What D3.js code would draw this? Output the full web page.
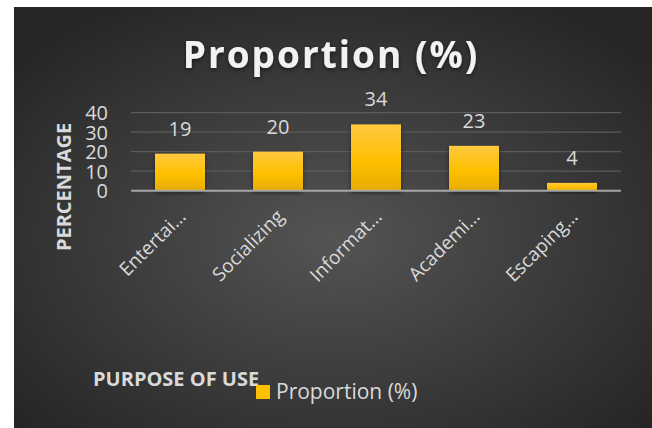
<!DOCTYPE html>
<html>
<head>
<meta charset="utf-8">
<script src="https://cdn.jsdelivr.net/npm/d3@7"></script>
<style>
  body { margin: 0; background: #fff; }
  text { font-family: "Open Sans", sans-serif; }
</style>
</head>
<body>
<div id="chart"></div>
<script>
// data
var categories = ["Entertai…", "Socializing", "Informat…", "Academi…", "Escaping…"];
var proportion = [19, 20, 34, 23, 4];
var yTicks = [0, 10, 20, 30, 40];
var seriesName = "Proportion (%)";

var svgWidth = 652;
var svgHeight = 428;

var plot = { left: 131, right: 621, top: 112.7, bottom: 190.7 };

var svg = d3.select("#chart")
  .append("svg")
  .attr("width", svgWidth)
  .attr("height", svgHeight);

var defs = svg.append("defs");

var bg = defs.append("radialGradient")
  .attr("id", "bg")
  .attr("cx", "50%").attr("cy", "55%").attr("r", "65%");
bg.append("stop").attr("offset", "0%").attr("stop-color", "#545454");
bg.append("stop").attr("offset", "100%").attr("stop-color", "#262626");

var barGrad = defs.append("linearGradient")
  .attr("id", "barGrad")
  .attr("x1", 0).attr("y1", 0).attr("x2", 0).attr("y2", 1);
barGrad.append("stop").attr("offset", "0%").attr("stop-color", "#ffc940");
barGrad.append("stop").attr("offset", "55%").attr("stop-color", "#ffc000");
barGrad.append("stop").attr("offset", "100%").attr("stop-color", "#e6ad00");

var shadow = defs.append("filter").attr("id", "shadow")
  .attr("x", "-20%").attr("y", "-20%").attr("width", "140%").attr("height", "160%");
shadow.append("feDropShadow")
  .attr("dx", 0).attr("dy", 2).attr("stdDeviation", 2)
  .attr("flood-color", "#000").attr("flood-opacity", 0.5);

// panel
svg.append("rect")
  .attr("x", 14).attr("y", 7)
  .attr("width", svgWidth - 14).attr("height", svgHeight - 7)
  .attr("fill", "url(#bg)");

var x = d3.scaleBand()
  .domain(categories)
  .range([plot.left, plot.right])
  .paddingInner(0.49)
  .paddingOuter(0.245);

var y = d3.scaleLinear()
  .domain([0, 40])
  .range([plot.bottom, plot.top]);

// gridlines
svg.append("g")
  .selectAll("line")
  .data(yTicks.slice(1))
  .enter()
  .append("line")
  .attr("x1", plot.left).attr("x2", plot.right)
  .attr("y1", d => y(d)).attr("y2", d => y(d))
  .attr("stroke", "#5b5b5b")
  .attr("stroke-width", 1.3);

// y axis labels (packed tight like the original)
var yAxis = svg.append("g")
  .attr("transform", `translate(${plot.left}, 0)`)
  .call(d3.axisLeft(y).tickValues(yTicks).tickSize(0).tickPadding(23));
yAxis.select(".domain").remove();
yAxis.selectAll("text")
  .attr("fill", "#d9d9d9")
  .attr("font-size", "20px")
  .attr("dy", "0.36em");

// bars
svg.append("g")
  .selectAll("rect")
  .data(proportion)
  .enter()
  .append("rect")
  .attr("x", (d, i) => x(categories[i]))
  .attr("y", d => y(d))
  .attr("width", x.bandwidth())
  .attr("height", d => y(0) - y(d))
  .attr("fill", "url(#barGrad)")
  .attr("filter", "url(#shadow)");

// axis line
svg.append("line")
  .attr("x1", plot.left).attr("x2", plot.right)
  .attr("y1", y(0)).attr("y2", y(0))
  .attr("stroke", "#a6a6a6")
  .attr("stroke-width", 2);

// data labels
svg.append("g")
  .selectAll("text")
  .data(proportion)
  .enter()
  .append("text")
  .attr("x", (d, i) => x(categories[i]) + x.bandwidth() / 2)
  .attr("y", d => y(d) - 18)
  .attr("text-anchor", "middle")
  .attr("fill", "#d9d9d9")
  .attr("font-size", "20px")
  .text(d => d);

// category labels
svg.append("g")
  .selectAll("text")
  .data(categories)
  .enter()
  .append("text")
  .attr("transform", d => `translate(${x(d) + x.bandwidth() / 2 + 7}, ${plot.bottom + 27}) rotate(-45)`)
  .attr("text-anchor", "end")
  .attr("fill", "#d9d9d9")
  .attr("font-size", "19px")
  .text(d => d);

// title
svg.append("text")
  .attr("x", 331)
  .attr("y", 68)
  .attr("text-anchor", "middle")
  .attr("fill", "#f2f2f2")
  .attr("font-size", "37px")
  .attr("font-weight", "bold")
  .attr("letter-spacing", "2px")
  .attr("filter", "url(#shadow)")
  .text(seriesName);

// axis titles
svg.append("text")
  .attr("transform", "translate(71, 187) rotate(-90)")
  .attr("text-anchor", "middle")
  .attr("fill", "#d9d9d9")
  .attr("font-size", "20px")
  .attr("font-weight", "bold")
  .text("PERCENTAGE");

svg.append("text")
  .attr("x", 93)
  .attr("y", 386)
  .attr("fill", "#d9d9d9")
  .attr("font-size", "20px")
  .attr("font-weight", "bold")
  .text("PURPOSE OF USE");

// legend
svg.append("rect")
  .attr("x", 256).attr("y", 385)
  .attr("width", 14).attr("height", 14)
  .attr("fill", "#ffc000");

svg.append("text")
  .attr("x", 276)
  .attr("y", 399)
  .attr("fill", "#d9d9d9")
  .attr("font-size", "21px")
  .text(seriesName);
</script>
</body>
</html>
